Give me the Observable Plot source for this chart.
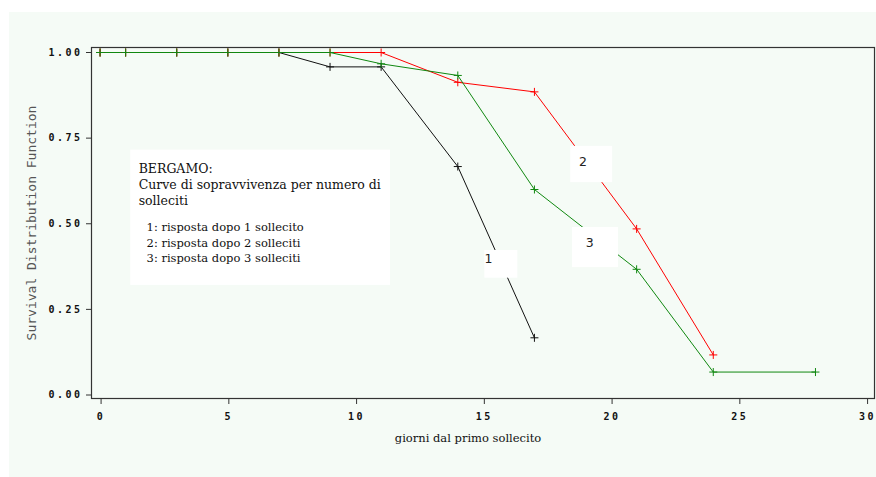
<!DOCTYPE html>
<html>
<head>
<meta charset="utf-8">
<script src="https://cdn.jsdelivr.net/npm/d3@7"></script>
<script src="https://cdn.jsdelivr.net/npm/@observablehq/plot@0.6"></script>
<style>
  html, body { margin: 0; padding: 0; background: #ffffff; }
  svg [aria-label="y-axis tick label"] text { letter-spacing: 2.5px; }
  svg [aria-label="x-axis tick label"] text { letter-spacing: 2.5px; }
  svg [aria-label="ylabel"] text { letter-spacing: 0.4px; }
</style>
</head>
<body>
<div id="chart"></div>
<script>
// ---- data ----
const days1 = [0, 1, 3, 5, 7, 9, 11, 14, 17];
const surv1 = [1, 1, 1, 1, 1, 0.958, 0.958, 0.667, 0.167];
const days2 = [0, 1, 3, 5, 7, 9, 11, 14, 17, 21, 24];
const surv2 = [1, 1, 1, 1, 1, 1, 1, 0.913, 0.885, 0.485, 0.117];
const days3 = [0, 1, 3, 5, 7, 9, 11, 14, 17, 21, 24, 28];
const surv3 = [1, 1, 1, 1, 1, 1, 0.967, 0.933, 0.6, 0.367, 0.067, 0.067];

const seriesNames = ["1", "2", "3"];
const seriesColors = ["#111111", "#ff0000", "#108810"];

const xTicks = [0, 5, 10, 15, 20, 25, 30];
const yTicks = [0, 0.25, 0.5, 0.75, 1];

const xLabel = "giorni dal primo sollecito";
const yLabel = "Survival Distribution Function";

const legendHead = ["BERGAMO:", "Curve di sopravvivenza per numero di", "solleciti"];
const legendItems = ["1: risposta dopo 1 sollecito", "2: risposta dopo 2 solleciti", "3: risposta dopo 3 solleciti"];

// curve labels (data coordinates)
const curveLabels = [
  {label: "1", x: 15.2, y: 0.398},
  {label: "2", x: 18.9, y: 0.679},
  {label: "3", x: 19.16, y: 0.445}
];
// white boxes behind labels / legend (data coordinates)
const whiteBoxes = [
  {x1: 1.2, x2: 11.37, y1: 0.32, y2: 0.715},
  {x1: 15.06, x2: 16.35, y1: 0.341, y2: 0.422},
  {x1: 18.42, x2: 20.06, y1: 0.62, y2: 0.726},
  {x1: 18.49, x2: 20.29, y1: 0.372, y2: 0.489}
];

// build table
const rows = [];
[[days1, surv1], [days2, surv2], [days3, surv3]].forEach(([d, s], i) => {
  d.forEach((day, j) => rows.push({series: seriesNames[i], day, surv: s[j]}));
});

const mono = "'DejaVu Sans Mono', 'Liberation Mono', monospace";
const serif = "'DejaVu Serif', 'Liberation Serif', serif";

const legendTop = 0.661, legendStep = 0.0468;
const itemTop = 0.489, itemStep = 0.0455;

const chart = Plot.plot({
  width: 876,
  height: 477,
  marginLeft: 91,
  marginRight: 2,
  marginTop: 47,
  marginBottom: 79,
  style: {
    background: "linear-gradient(#f5fbf6, #f5fbf6) 9px 12px / 867px 465px no-repeat, #ffffff",
    overflow: "visible"
  },
  x: {domain: [-0.336, 30.31]},
  y: {domain: [-0.0102, 1.0146]},
  color: {domain: seriesNames, range: seriesColors},
  marks: [
    Plot.frame({stroke: "#333333", strokeWidth: 1.2}),
    Plot.axisX({
      ticks: xTicks, tickSize: 6, tickPadding: 8, stroke: "#333", dx: 1,
      fontFamily: mono, fontWeight: "bold", fontSize: 10, fill: "#111",
      label: null
    }),
    Plot.axisY({
      ticks: yTicks, tickSize: 5, tickPadding: 4, stroke: "#333",
      tickFormat: d3.format(".2f"),
      fontFamily: mono, fontWeight: "bold", fontSize: 10, fill: "#111",
      label: null
    }),
    Plot.text([xLabel], {
      x: () => 14.4, frameAnchor: "bottom", dy: 40, text: d => d,
      fontFamily: serif, fontSize: 11.5, fill: "#111", lineAnchor: "middle"
    }),
    Plot.text([yLabel], {
      frameAnchor: "left", dx: -60, rotate: -90, text: d => d, textAnchor: "middle",
      ariaLabel: "ylabel",
      fontFamily: mono, fontSize: 13, fill: "#555", lineAnchor: "middle"
    }),
    Plot.line(rows, {x: "day", y: "surv", z: "series", stroke: "series", strokeWidth: 1}),
    Plot.dot(rows, {x: "day", y: "surv", stroke: "series", symbol: "plus", r: 2.7, strokeWidth: 1}),
    Plot.rect(whiteBoxes, {x1: "x1", x2: "x2", y1: "y1", y2: "y2", fill: "#ffffff"}),
    Plot.text(curveLabels, {
      x: "x", y: "y", text: "label", fontFamily: "'DejaVu Sans', sans-serif", fontSize: 12.5, fill: "#222"
    }),
    Plot.text(legendHead, {
      x: () => 1.51, y: (d, i) => legendTop - i * legendStep, text: d => d,
      textAnchor: "start", fontFamily: serif, fontSize: 12.5, fill: "#111"
    }),
    Plot.text(legendItems, {
      x: () => 1.82, y: (d, i) => itemTop - i * itemStep, text: d => d,
      textAnchor: "start", fontFamily: serif, fontSize: 11.5, fill: "#111"
    })
  ]
});

document.getElementById("chart").appendChild(chart);
</script>
</body>
</html>
